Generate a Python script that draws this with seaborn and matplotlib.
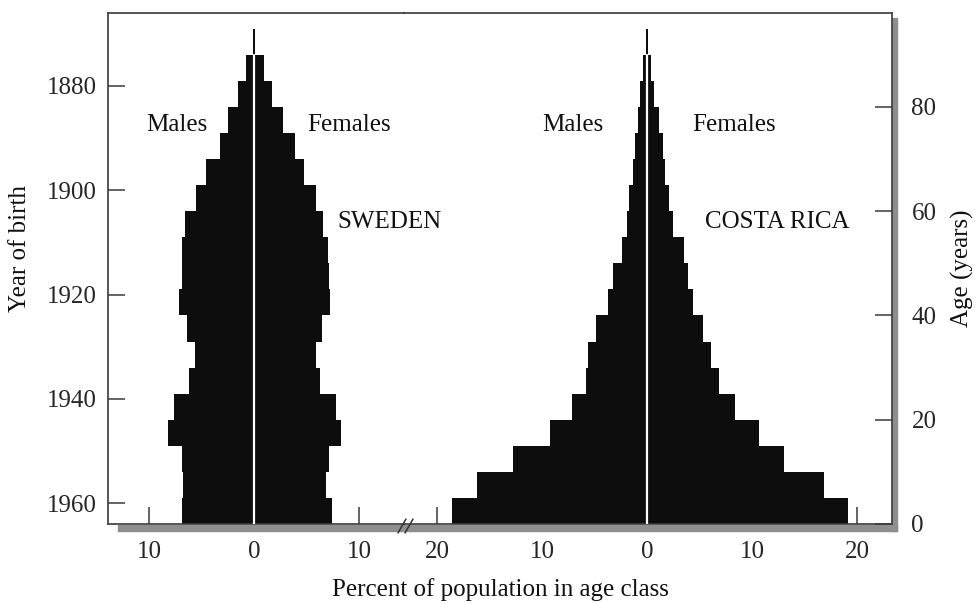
import numpy as np
import matplotlib
matplotlib.use("Agg")
import matplotlib.pyplot as plt
from matplotlib.patches import Rectangle
from matplotlib.lines import Line2D
import seaborn as sns

# Age classes (5-year), lower bounds 0..90
age_lower = [0, 5, 10, 15, 20, 25, 30, 35, 40, 45, 50, 55, 60, 65, 70, 75, 80, 85, 90]

# Percent of population in each age class
sweden_males = [6.9, 6.8, 6.9, 8.15, 7.6, 6.15, 5.6, 6.35, 7.1, 6.85,
                6.9, 6.55, 5.55, 4.55, 3.25, 2.45, 1.5, 0.8, 0.1]
sweden_females = [7.45, 6.85, 7.15, 8.25, 7.8, 6.3, 5.9, 6.45, 7.25, 7.1,
                  7.05, 6.55, 5.95, 4.8, 3.9, 2.8, 1.75, 1.0, 0.1]
costa_males = [18.55, 16.2, 12.75, 9.25, 7.15, 5.85, 5.65, 4.9, 3.7, 3.25,
               2.4, 1.95, 1.7, 1.3, 1.15, 0.9, 0.65, 0.35, 0.1]
costa_females = [19.1, 16.9, 13.0, 10.65, 8.4, 6.9, 6.1, 5.3, 4.4, 3.9,
                 3.55, 2.45, 2.1, 1.7, 1.5, 1.15, 0.7, 0.4, 0.1]

census_year = 1964
birth_year_ticks = [1880, 1900, 1920, 1940, 1960]
age_ticks = [0, 20, 40, 60, 80]
sweden_xticks = [-10, 0, 10]
costa_xticks = [-20, -10, 0, 10, 20]

sns.set_style("ticks")
plt.rcParams["font.family"] = ["Liberation Serif", "DejaVu Serif"]
plt.rcParams["xtick.direction"] = "in"
plt.rcParams["ytick.direction"] = "in"

FS = 18
W, H = 975, 604
fig = plt.figure(figsize=(W / 100, H / 100), dpi=100)
bottom = 1 - 524 / H
height = (524 - 13) / H
ax_sw = fig.add_axes([108 / W, bottom, (404 - 108) / W, height])
ax_cr = fig.add_axes([404 / W, bottom, (892 - 404) / W, height])

age_mid = [a + 2.5 for a in age_lower]
top_age = age_lower[-1]

for ax, males, females in [(ax_sw, sweden_males, sweden_females),
                           (ax_cr, costa_males, costa_females)]:
    ax.patch.set_visible(False)
    sns.barplot(x=[-m for m in males], y=age_mid, orient="y", native_scale=True,
                width=1.0, color="#0d0d0d", linewidth=0, errorbar=None, ax=ax)
    sns.barplot(x=females, y=age_mid, orient="y", native_scale=True,
                width=1.0, color="#0d0d0d", linewidth=0, errorbar=None, ax=ax)
    ax.plot([0, 0], [0, top_age], color="white", lw=1.6, zorder=5)
    ax.set_ylim(0, 98)
    ax.set_xlabel("")
    ax.set_ylabel("")
    for s in ax.spines.values():
        s.set_color("#3a3a3a")
        s.set_linewidth(1.2)
    ax.tick_params(length=12, width=1.1, color="#3a3a3a", labelsize=FS)

# Sweden panel
ax_sw.set_xlim(-13.9, 14.29)
ax_sw.set_xticks(sweden_xticks)
ax_sw.set_xticklabels([str(abs(t)) for t in sweden_xticks])
ax_sw.spines["right"].set_visible(False)
ax_sw.set_yticks([census_year - y for y in birth_year_ticks])
ax_sw.set_yticklabels([str(y) for y in birth_year_ticks])
ax_sw.tick_params(axis="x", pad=12)
ax_sw.tick_params(axis="y", pad=8)

# Costa Rica panel
ax_cr.set_xlim(-23.14, 23.33)
ax_cr.set_xticks(costa_xticks)
ax_cr.set_xticklabels([str(abs(t)) for t in costa_xticks])
ax_cr.spines["left"].set_visible(False)
ax_cr.yaxis.tick_right()
ax_cr.set_yticks(age_ticks)
ax_cr.tick_params(axis="x", pad=12)
ax_cr.tick_params(axis="y", pad=14)

# annotations
txt = dict(fontsize=FS, ha="center", va="center", color="#111")
ax_sw.text(-7.3, 76.6, "Males", **txt)
ax_sw.text(9.05, 76.6, "Females", **txt)
ax_sw.text(12.9, 58, "SWEDEN", clip_on=False, zorder=10, **txt)
ax_cr.text(-7.05, 76.6, "Males", **txt)
ax_cr.text(8.3, 76.6, "Females", **txt)
ax_cr.text(12.4, 58, "COSTA RICA", **txt)

# shadow bands along bottom and right
shade = "#8e8e8e"
fig.add_artist(Rectangle((118 / W, 1 - 531 / H), (897 - 118) / W, 6 / H,
                         transform=fig.transFigure, color=shade, zorder=0))
fig.add_artist(Rectangle((892 / W, 1 - 531 / H), 5 / W, (531 - 18) / H,
                         transform=fig.transFigure, color=shade, zorder=0))

# axis break mark
for dx in (0, 7):
    fig.add_artist(Line2D([(398 + dx) / W, (406 + dx) / W],
                          [1 - 533 / H, 1 - 519 / H],
                          transform=fig.transFigure, color="#333", lw=1.1))

fig.text(500 / W, 1 - 590 / H, "Percent of population in age class",
         fontsize=FS, ha="center", va="center", color="#111")
fig.text(20 / W, 1 - 248 / H, "Year of birth", rotation=90,
         fontsize=FS, ha="center", va="center", color="#111")
fig.text(962 / W, 1 - 268 / H, "Age (years)", rotation=90,
         fontsize=FS, ha="center", va="center", color="#111")

fig.savefig("out.png", dpi=100)
